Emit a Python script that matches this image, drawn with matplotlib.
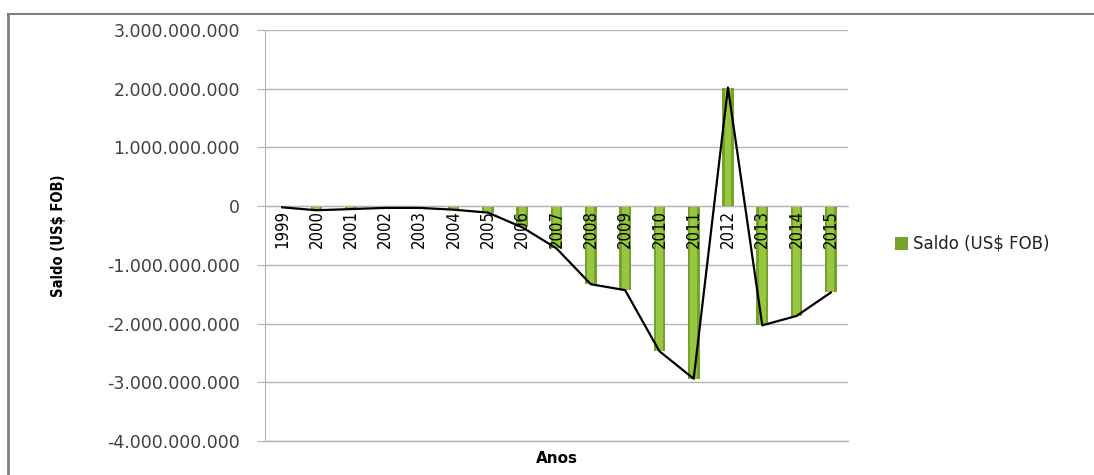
import matplotlib.pyplot as plt
from matplotlib.lines import Line2D
from matplotlib.ticker import FuncFormatter

anos = ["1999", "2000", "2001", "2002", "2003", "2004", "2005", "2006", "2007",
        "2008", "2009", "2010", "2011", "2012", "2013", "2014", "2015"]
saldo = [-0.02e9, -0.07e9, -0.05e9, -0.03e9, -0.03e9, -0.06e9, -0.11e9, -0.36e9,
         -0.72e9, -1.33e9, -1.43e9, -2.47e9, -2.94e9, 2.02e9, -2.03e9, -1.87e9,
         -1.47e9]

narrow = dict(family="DejaVu Sans", stretch="condensed")

fig = plt.figure(figsize=(10.94, 4.75), dpi=100)
ax = fig.add_axes([265 / 1094, 34 / 475, 583 / 1094, 411 / 475])

x = range(len(anos))
# cylinder-ish bars: darker body with a lighter core
ax.bar(x, saldo, width=0.34, color="#75A12D", zorder=2, label="Saldo (US$ FOB)")
ax.bar(x, saldo, width=0.2, color="#98C640", zorder=2)
ax.plot(x, saldo, color="black", lw=1.6, zorder=3)

ax.set_xlim(-0.5, len(anos) - 0.5)
ax.set_ylim(-4e9, 3e9)
ax.set_yticks([i * 1e9 for i in range(-4, 4)])
ax.yaxis.set_major_formatter(
    FuncFormatter(lambda v, p: f"{v:,.0f}".replace(",", ".")))
ax.yaxis.grid(True, color="#B4B4B4", lw=1, zorder=0)
ax.axhline(-4e9, color="#B4B4B4", lw=1, clip_on=False, zorder=0)
ax.tick_params(axis="y", length=6, color="#B4B4B4", labelsize=12.5,
               labelcolor="#404040", pad=12)

# category axis crosses at zero; year labels sit over the bars
ax.spines["bottom"].set_position(("data", 0))
ax.spines["bottom"].set_color("#B4B4B4")
ax.spines["left"].set_color("#B4B4B4")
ax.spines["top"].set_visible(False)
ax.spines["right"].set_visible(False)
ax.set_xticks([])
for i, ano in zip(x, anos):
    ax.annotate(ano, (i, 0), xytext=(0, -3), textcoords="offset points",
                rotation=90, ha="center", va="top", fontsize=12,
                zorder=5, **narrow)

ax.text(0.5, -0.025, "Anos", transform=ax.transAxes, ha="center", va="top",
        fontsize=11, fontweight="bold")
fig.text(59 / 1094, 1 - 236 / 475, "Saldo (US$ FOB)", rotation=90,
         ha="center", va="center", fontweight="bold", fontsize=10.5, **narrow)

leg = fig.legend(loc="center left", bbox_to_anchor=(880 / 1094, 1 - 244 / 475),
                 frameon=False, fontsize=12, handlelength=0.8, handleheight=0.8,
                 handletextpad=0.3)
for t in leg.get_texts():
    t.set_color("#202020")

# outer chart frame (left and top edges only)
fig.add_artist(Line2D([8 / 1094, 8 / 1094], [0, 1 - 14 / 475],
                      transform=fig.transFigure, color="#808080", lw=2))
fig.add_artist(Line2D([8 / 1094, 1], [1 - 14 / 475, 1 - 14 / 475],
                      transform=fig.transFigure, color="#808080", lw=1.5))

fig.savefig("out.png", dpi=100)
